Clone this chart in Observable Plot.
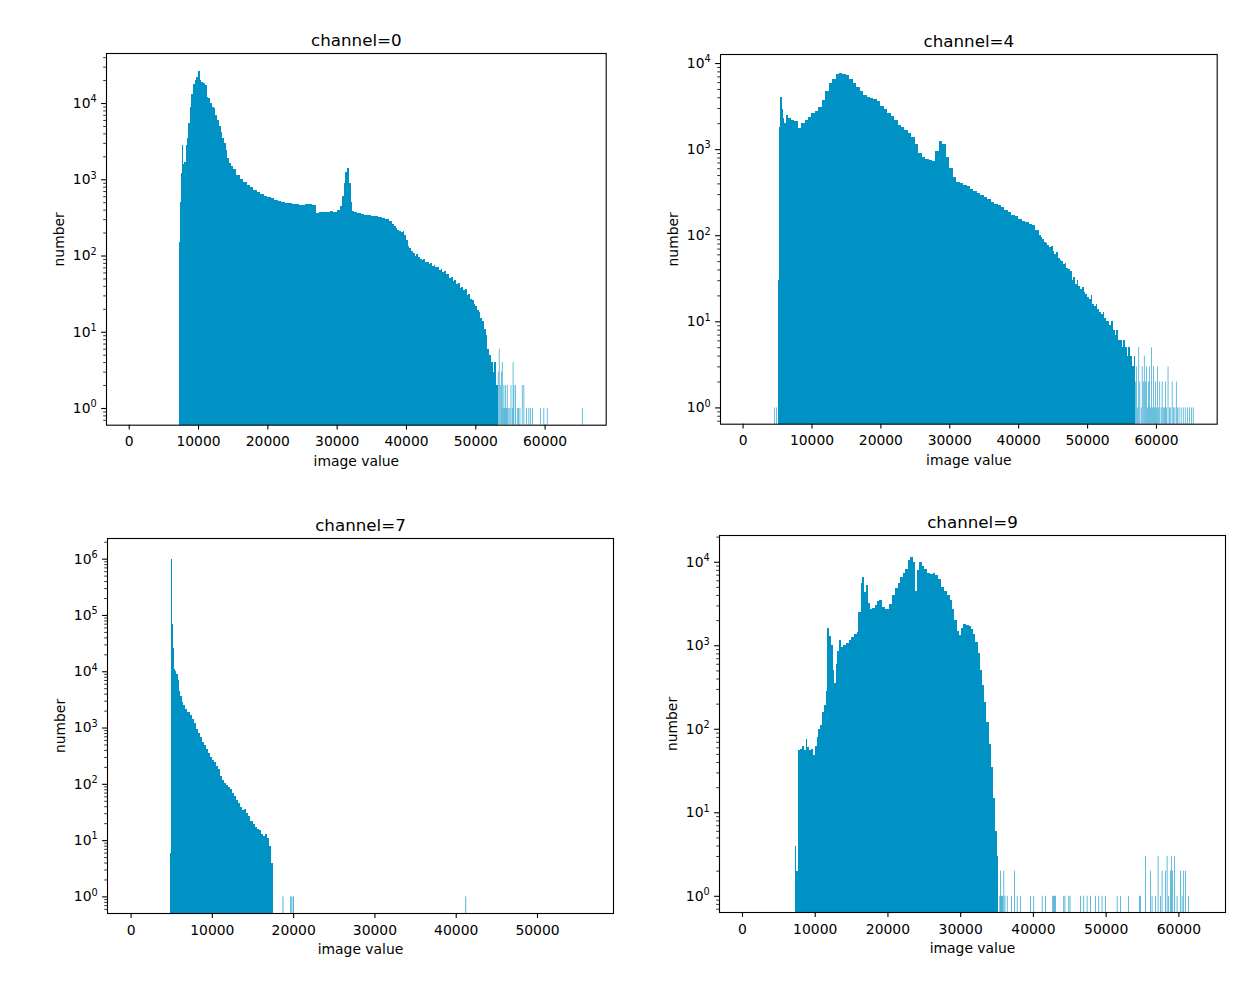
<!DOCTYPE html>
<html><head><meta charset="utf-8">
<script src="https://cdn.jsdelivr.net/npm/d3@7"></script>
<script src="https://cdn.jsdelivr.net/npm/@observablehq/plot@0.6"></script>
<style>
html,body{margin:0;padding:0;background:#fff;}
#fig{position:relative;width:1255px;height:982px;background:#fff;overflow:hidden;font-family:"DejaVu Sans",sans-serif;}
.panel{position:absolute;}
</style></head><body><div id="fig"></div>
<script>
// ---------- data: [bin left edge, count] ----------
const ch0Bins = [[7200,30],[7300,150],[7400,500],[7500,1200],[7650,2800],[7800,1600],[8000,1700],[8200,2800],[8400,3500],[8600,5500],[8800,9000],[9000,13000],[9250,18000],[9500,20000],[9750,22000],[10000,26000],[10250,20000],[10500,19000],[10750,18500],[11000,17000],[11250,12000],[11500,11500],[11750,10000],[12000,9000],[12250,8500],[12500,7000],[12750,6000],[13000,5000],[13250,4200],[13500,3500],[13750,3000],[14000,2400],[14250,1900],[14500,1650],[14750,1500],[15000,1350],[15500,1150],[16000,1020],[16500,920],[17000,850],[17500,800],[18000,720],[18500,680],[19000,640],[19500,610],[20000,590],[20500,560],[21000,540],[21500,520],[22000,505],[22500,495],[23000,485],[23500,475],[24000,470],[24500,465],[25000,465],[25500,475],[26000,480],[26500,460],[27000,360],[27500,370],[28000,375],[28500,370],[29000,380],[29500,375],[30000,390],[30500,440],[30750,600],[31000,900],[31250,1250],[31500,1400],[31750,900],[32000,500],[32250,380],[32500,370],[33000,360],[33500,350],[34000,345],[34500,335],[35000,330],[35500,325],[36000,320],[36500,310],[37000,300],[37500,280],[38000,260],[38250,245],[38500,232],[38750,214],[39000,212],[39250,203],[39500,210],[39750,188],[40000,160],[40250,134],[40500,124],[40750,116],[41000,107],[41250,100],[41500,104],[41750,95],[42000,91],[42250,87],[42500,90],[42750,81],[43000,83],[43250,77],[43500,79],[43750,73],[44000,76],[44250,71],[44500,70],[44750,64],[45000,67],[45250,61],[45500,63],[45750,57],[46000,58],[46250,51],[46500,52],[46750,47],[47000,48],[47250,42],[47500,44],[47750,38],[48000,39],[48250,35],[48500,36],[48750,30],[49000,31],[49250,27],[49500,26],[49750,23],[50000,22],[50250,19],[50500,18],[50750,15],[51000,14],[51250,11],[51500,9],[51750,6],[52000,5],[52250,4],[52500,3],[52750,4],[53000,2]];
const ch0End = 53250;
const ch0Tail = [[53250,3],[53400,6],[53550,2],[53700,3],[53840,4],[53950,1],[54080,2],[54200,1],[54320,2],[54450,1],[54560,2],[54700,1],[54940,1],[55100,2],[55280,1],[55400,4],[55520,2],[55760,2],[56000,1],[56200,1],[56390,1],[56720,2],[56960,2],[57350,1],[57680,1],[57920,1],[58210,1],[59370,1],[59840,1],[60330,1],[65380,1]];

const ch4Bins = [[5150,30],[5250,1800],[5450,4000],[5650,2900],[5850,2300],[6050,2000],[6300,2500],[6600,2300],[7000,2200],[7500,2100],[8000,1750],[8500,2000],[9000,2200],[9500,2350],[10000,2600],[10500,2800],[11000,3100],[11500,3700],[12000,4700],[12500,5800],[13000,6600],[13500,7400],[14000,7700],[14500,7500],[15000,7200],[15500,6600],[16000,5900],[16500,5200],[17000,4700],[17500,4300],[18000,4050],[18500,3900],[19000,3800],[19500,3600],[20000,3200],[20500,2900],[21000,2650],[21500,2400],[22000,2150],[22500,1920],[23000,1800],[23500,1690],[24000,1550],[24500,1400],[25000,1150],[25500,900],[26000,800],[26500,760],[27000,740],[27500,720],[28000,950],[28500,1250],[29000,1150],[29500,820],[30000,600],[30500,470],[31000,420],[31500,400],[32000,380],[32500,370],[33000,345],[33500,330],[34000,310],[34500,295],[35000,280],[35500,265],[36000,245],[36500,230],[37000,222],[37500,210],[38000,195],[38500,185],[39000,172],[39500,165],[40000,155],[40500,148],[41000,143],[41500,135],[42000,130],[42500,115],[43000,100],[43250,95],[43500,91],[43750,84],[44000,81],[44250,76],[44500,73],[44750,75],[45000,66],[45250,60],[45500,63],[45750,55],[46000,52],[46250,50],[46500,46],[46750,47],[47000,42],[47250,40],[47500,38],[47750,30],[48000,33],[48250,27],[48500,30],[48750,26],[49000,24],[49250,25],[49500,22],[49750,21],[50000,19],[50250,18],[50500,20],[50750,16],[51000,15],[51250,16],[51500,14],[51750,13],[52000,12],[52250,13],[52500,11],[52750,10],[53000,10],[53250,9],[53500,10],[53750,8],[54000,7],[54250,8],[54500,6],[54750,6],[55000,5],[55250,6],[55500,5],[55750,4],[56000,5],[56250,4],[56500,3],[56750,4]];
const ch4End = 57000;
const ch4Tail = [[4600,1],[4850,1],[57000,2],[57150,3],[57300,1],[57450,5],[57600,2],[57800,1],[57950,3],[58100,2],[58250,4],[58400,2],[58550,3],[58700,1],[58850,2],[59000,3],[59150,1],[59300,5],[59450,1],[59600,3],[59750,1],[59900,2],[60050,1],[60200,3],[60350,1],[60500,2],[60700,1],[60850,2],[61000,1],[61200,1],[61350,2],[61500,1],[61700,3],[61900,1],[62100,1],[62300,2],[62500,1],[62700,1],[62900,2],[63100,1],[63300,1],[63600,1],[63900,1],[64200,1],[64500,1],[64800,1],[65100,1],[65350,1]];

const ch7Bins = [[4900,6],[4980,1000000],[5080,210000],[5150,70000],[5220,26000],[5300,14000],[5400,11000],[5500,10000],[5650,9000],[5800,7000],[5950,4500],[6100,3600],[6300,2900],[6500,2500],[6750,2100],[7000,1900],[7250,1650],[7500,1400],[7750,1200],[8000,950],[8250,800],[8500,680],[8750,560],[9000,480],[9250,420],[9500,350],[9750,300],[10000,270],[10250,240],[10500,210],[10750,180],[11000,140],[11250,115],[11500,105],[11750,95],[12000,88],[12250,80],[12500,68],[12750,60],[13000,52],[13250,46],[13500,38],[13750,34],[14000,35],[14250,30],[14500,27],[14750,22],[15000,19],[15250,17],[15500,16],[15750,15],[16000,13],[16250,12],[16500,13],[16750,11],[17000,8],[17250,4]];
const ch7End = 17500;
const ch7Tail = [[18700,1],[19650,1],[19800,1],[19980,1],[41190,1]];

const ch9Bins = [[7300,4],[7420,2],[7600,2],[7750,55],[8000,58],[8250,62],[8500,55],[8750,75],[9000,60],[9250,55],[9500,58],[9750,48],[10000,62],[10250,80],[10500,100],[10750,110],[11000,160],[11250,190],[11500,280],[11750,1600],[12000,1300],[12250,1000],[12500,500],[12700,350],[12900,600],[13100,850],[13350,1150],[13600,950],[13900,1000],[14250,1050],[14650,1150],[15000,1250],[15400,1350],[15750,1450],[16000,2500],[16300,5500],[16550,6500],[16800,4300],[17050,5200],[17300,3200],[17600,2700],[17900,2800],[18250,3000],[18600,3400],[18900,3500],[19250,2900],[19600,2750],[19900,2700],[20200,3100],[20600,4000],[21000,4800],[21400,5600],[21750,6600],[22100,7400],[22450,8200],[22800,10500],[23100,11500],[23450,10000],[23800,4500],[24050,8000],[24350,10000],[24700,9000],[25000,8200],[25400,7400],[25800,7200],[26200,7300],[26600,7000],[27000,6200],[27400,5000],[27800,4500],[28200,4000],[28600,3500],[28900,2700],[29200,2000],[29500,1500],[29800,1320],[30100,1600],[30450,1800],[30800,1750],[31150,1700],[31500,1550],[31800,1350],[32100,1100],[32400,800],[32700,500],[33000,330],[33300,210],[33600,120],[33900,65],[34200,35],[34500,15],[34750,6],[35000,3]];
const ch9End = 35250;
const ch9Tail = [[35400,1],[35490,2],[35600,1],[35700,1],[35800,1],[35950,2],[36100,1],[36410,1],[37000,1],[37420,2],[37790,1],[38240,1],[39610,1],[40070,1],[41220,1],[41670,1],[42680,1],[42800,1],[42900,1],[43050,1],[44190,1],[44350,1],[44880,1],[45050,1],[46480,1],[46940,1],[47400,1],[47860,1],[48540,1],[49000,1],[49460,1],[49920,1],[51530,1],[51980,1],[53120,1],[54600,1],[54730,1],[55410,3],[56100,2],[56330,1],[56790,1],[57160,3],[57470,1],[57710,2],[58160,2],[58400,3],[58620,1],[58850,2],[58990,3],[59170,2],[59440,3],[59770,1],[60220,2],[60460,1],[60680,2],[60910,2],[61360,1]];

const titles = ["channel=0", "channel=4", "channel=7", "channel=9"];
const xTicks60 = [0, 10000, 20000, 30000, 40000, 50000, 60000];
const xTicks50 = [0, 10000, 20000, 30000, 40000, 50000];
const xLabel = "image value";
const yLabel = "number";

// ---------- layout ----------
const BLUE = "#0092c5";
const panels = [
  {title: titles[0], bins: ch0Bins, end: ch0End, tail: ch0Tail, frame: [106, 605.7, 53.3, 425], xDomain: [-3277, 68812], yDomain: [0.604, 45300], xTicks: xTicks60, maxDec: 4},
  {title: titles[1], bins: ch4Bins, end: ch4End, tail: ch4Tail, frame: [720, 1216.7, 54.3, 424], xDomain: [-3277, 68812], yDomain: [0.647, 12730], xTicks: xTicks60, maxDec: 4},
  {title: titles[2], bins: ch7Bins, end: ch7End, tail: ch7Tail, frame: [107.3, 613.3, 538.3, 913.3], xDomain: [-2900, 59350], yDomain: [0.507, 2.33e6], xTicks: xTicks50, maxDec: 6},
  {title: titles[3], bins: ch9Bins, end: ch9End, tail: ch9Tail, frame: [719, 1225, 535, 912], xDomain: [-3160, 66410], yDomain: [0.64, 20900], xTicks: xTicks60, maxDec: 4}
];

const SUP = "⁰¹²³⁴⁵⁶⁷⁸⁹";
const fmtPow = v => "10" + String(Math.round(Math.log10(v))).split("").map(c => SUP[+c]).join("");

const fig = document.getElementById("fig");
const ML = 70, MR = 20, MT = 40, MB = 60;
const FS = 13.9;
const NS = "http://www.w3.org/2000/svg";

for (const p of panels) {
  const [fl, fr, ft, fb] = p.frame;
  const W = fr - fl + ML + MR, H = fb - ft + MT + MB;
  const floor = p.yDomain[0];
  const body = p.bins.map((b, i) => ({x1: b[0], x2: i < p.bins.length - 1 ? p.bins[i + 1][0] : p.end, n: b[1]}));
  const tail = p.tail.map(t => ({x1: t[0], x2: t[0] + 100, n: t[1]}));
  const majors = d3.range(0, p.maxDec + 1).map(k => Math.pow(10, k));
  const minors = [];
  for (let k = -1; k <= p.maxDec; k++) for (let m = 2; m <= 9; m++) {
    const v = m * Math.pow(10, k);
    if (v >= p.yDomain[0] && v <= p.yDomain[1]) minors.push(v);
  }
  const chart = Plot.plot({
    width: W, height: H,
    marginLeft: ML, marginRight: MR, marginTop: MT, marginBottom: MB,
    style: {fontFamily: "DejaVu Sans", fontSize: FS + "px", color: "black", background: "transparent", overflow: "visible"},
    x: {type: "linear", domain: p.xDomain, label: null},
    y: {type: "log", domain: p.yDomain, label: null},
    marks: [
      Plot.rect(body, {x1: "x1", x2: "x2", y1: () => floor, y2: "n", fill: BLUE, shapeRendering: "crispEdges"}),
      Plot.rect(tail, {x1: "x1", x2: "x2", y1: () => floor, y2: "n", fill: BLUE, fillOpacity: 0.85}),
      Plot.axisX({ticks: p.xTicks, tickFormat: d => String(d), tickSize: 4.9, tickPadding: 6.5, fontSize: FS, strokeWidth: 1.1, label: null}),
      Plot.axisY({ticks: majors, tickFormat: fmtPow, tickSize: 4.9, tickPadding: 4.9, fontSize: FS, strokeWidth: 1.1, label: null}),
      Plot.axisY({ticks: minors, tickFormat: () => "", tickSize: 2.8, strokeWidth: 0.8, label: null}),
      Plot.frame({stroke: "black", strokeWidth: 1.1}),
      Plot.text([p.title], {text: d => d, frameAnchor: "top", dy: -7.5, lineAnchor: "bottom", fontSize: 16.7}),
      Plot.text([xLabel], {text: d => d, frameAnchor: "bottom", dy: 36.5, lineAnchor: "middle", fontSize: FS}),
      Plot.text([yLabel], {text: d => d, frameAnchor: "left", dx: -47, rotate: -90, lineAnchor: "middle", textAnchor: "middle", fontSize: FS})
    ]
  });
  // render 10^k tick labels with a real superscript
  chart.querySelectorAll("text").forEach(t => {
    const s = t.textContent;
    const m = /^10([⁰¹²³⁴⁵⁶⁷⁸⁹]+)$/.exec(s);
    if (!m) return;
    const exp = m[1].split("").map(c => SUP.indexOf(c)).join("");
    t.textContent = "";
    const a = document.createElementNS(NS, "tspan");
    a.textContent = "10";
    const b = document.createElementNS(NS, "tspan");
    b.setAttribute("font-size", (FS * 0.7).toFixed(2));
    b.setAttribute("dy", "-5.6");
    b.textContent = exp;
    t.appendChild(a); t.appendChild(b);
  });
  const div = document.createElement("div");
  div.className = "panel";
  div.style.left = (fl - ML) + "px";
  div.style.top = (ft - MT) + "px";
  div.appendChild(chart);
  fig.appendChild(div);
}
</script></body></html>
